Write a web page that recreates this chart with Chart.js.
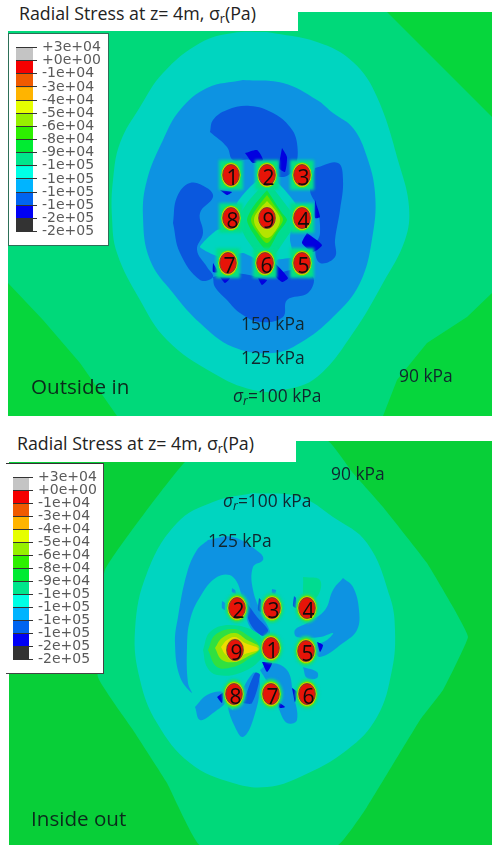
<!DOCTYPE html>
<html>
<head>
<meta charset="utf-8">
<script src="https://cdn.jsdelivr.net/npm/chart.js@4/dist/chart.umd.min.js"></script>
<style>
html,body{margin:0;padding:0;background:#fff;width:492px;height:845px;overflow:hidden}
canvas{position:absolute;display:block}
.plot{filter:blur(.55px)}
.white{position:absolute;background:#fff}
.t{position:absolute;white-space:nowrap;font-family:"Open Sans",sans-serif;line-height:1;color:#10262e}
.title{font-size:17.8px;color:#222}
.ann{font-size:17.4px}
.big{font-size:20.6px;color:#0b2a1c}
.t sub{font-size:.7em;vertical-align:-.25em;line-height:0}
.box{position:absolute;box-sizing:border-box;background:#fff}
</style>
</head>
<body>
<canvas id="plotA" class="plot" style="left:8px;top:12px"></canvas>
<canvas id="plotB" class="plot" style="left:9px;top:441px"></canvas>

<div class="white" style="left:0;top:0;width:298px;height:31px"></div>
<div class="white" style="left:0;top:430px;width:296px;height:32px"></div>
<div class="box" style="left:8px;top:33px;width:101px;height:213px;border:1px solid #2d6f58"></div>
<div class="box" style="left:6px;top:463px;width:98px;height:211px;border-top:1px solid #333;border-right:1px solid #444;border-bottom:1px solid #444"></div>
<canvas id="legendA" style="left:9px;top:34px"></canvas>
<canvas id="legendB" style="left:6px;top:464px"></canvas>

<div class="t title" style="left:19px;top:5px">Radial Stress at z= 4m, σ<sub>r</sub>(Pa)</div>
<div class="t title" style="left:17px;top:435px">Radial Stress at z= 4m, σ<sub>r</sub>(Pa)</div>

<div class="t ann" style="left:241px;top:315px">150 kPa</div>
<div class="t ann" style="left:241px;top:349px">125 kPa</div>
<div class="t ann" style="left:233px;top:387px"><i>σ<sub>r</sub></i>=100 kPa</div>
<div class="t ann" style="left:399px;top:367px">90 kPa</div>
<div class="t big" style="left:31px;top:376px">Outside in</div>

<div class="t ann" style="left:331px;top:465px">90 kPa</div>
<div class="t ann" style="left:223px;top:492px"><i>σ<sub>r</sub></i>=100 kPa</div>
<div class="t ann" style="left:208px;top:532px">125 kPa</div>
<div class="t big" style="left:31px;top:808px">Inside out</div>

<script>
// ---------- legend ----------
const legendLabels = ["+3e+04","+0e+00","-1e+04","-3e+04","-4e+04","-5e+04","-6e+04","-8e+04","-9e+04","-1e+05","-1e+05","-1e+05","-1e+05","-2e+05","-2e+05"];
const legendBands = [1,1,1,1,1,1,1,1,1,1,1,1,1,1];
const legendColors = ["#C4C4C4","#F50000","#F05A00","#FFB400","#E6FF00","#96F000","#2DF000","#00EB32","#00E68C","#00FFE6","#00B4FF","#0064F0","#0000F5","#333333"];

// ---------- piles ----------
const pileLabelsA = ["1","2","3","8","9","4","7","6","5"];
const pileXA = [231,267,302,231,267,302,228,265,302];
const pileYA = [175,175,175,218,218,218,263,263,263];
const pileLabelsB = ["2","3","4","9","1","5","8","7","6"];
const pileXB = [237,272,307,235,271,306,234,271,307];
const pileYB = [608,608,608,650,648,651,694,694,694];

// ---------- contour bands: Outside in ----------
const a90 = [[8,12],[387,12],[492,117],[492,293],[467,317],[427,343],[397,380],[383,416],[117,416],[80,363],[43,320],[8,283],[8,12]];
const a100 = [[267,32],[317,42],[353,62],[377,97],[400,167],[409,207],[405,240],[383,283],[353,333],[317,377],[283,390],[253,390],[213,373],[167,340],[140,300],[117,253],[112,217],[113,180],[120,143],[140,107],[163,73],[200,43],[233,33],[267,32]];
const a125 = [[243,80],[283,83],[317,100],[333,113],[353,128],[367,157],[375,193],[373,233],[360,283],[333,317],[300,343],[273,353],[233,347],[200,323],[173,293],[150,260],[143,217],[147,180],[163,140],[180,110],[207,88],[243,80]];
const a150Top = [[210,132],[213,120],[227,110],[250,106],[273,113],[290,127],[297,143],[295,167],[283,177],[267,170],[250,160],[233,160],[227,147],[210,132]];
const a150Left = [[173,223],[177,197],[190,183],[207,188],[213,197],[200,213],[203,233],[197,250],[207,267],[213,277],[200,280],[180,253],[173,223]];
const a150Right = [[315,168],[338,163],[343,180],[340,210],[335,240],[335,257],[320,263],[315,248],[320,233],[317,207],[310,190],[315,168]];
const a150Bottom = [[213,277],[233,273],[267,277],[293,270],[313,277],[308,293],[287,300],[283,317],[260,322],[240,313],[227,300],[215,287],[213,277]];
const aStar = [[267,172],[283,188],[293,200],[297,207],[292,220],[290,240],[293,257],[277,260],[267,273],[257,260],[243,253],[220,257],[200,247],[217,230],[240,227],[243,217],[237,203],[250,187],[267,172]];
const aDiamond1 = [[267,180],[290,210],[297,220],[287,237],[267,263],[247,240],[238,220],[247,203],[267,180]];
const aDiamond2 = [[267,190],[282,213],[287,220],[278,233],[267,250],[253,233],[247,220],[253,207],[267,190]];
const aDiamond3 = [[267,195],[279,212],[283,220],[276,232],[267,243],[257,232],[251,220],[257,208],[267,195]];
const aDiamond4 = [[267,201],[276,211],[280,220],[276,230],[267,238],[258,230],[254,220],[258,211],[267,201]];
const aDeep1 = [[245,153],[257,150],[263,160],[253,163],[245,153]];
const aDeep2 = [[282,148],[287,157],[285,172],[279,168],[282,148]];
const aDeep3 = [[307,233],[322,245],[313,252],[302,243],[307,233]];
const aDeep4 = [[275,263],[288,278],[282,282],[273,273],[275,263]];
const aDeep5 = [[220,190],[232,192],[227,195],[220,190]];
const aDeep6 = [[315,200],[320,217],[315,218],[315,200]];
const aDeep7 = [[213,263],[218,272],[213,272],[213,263]];
const aDeep8 = [[220,277],[230,278],[225,283],[220,277]];
const aDeep9 = [[258,278],[267,280],[262,285],[258,278]];

// ---------- contour bands: Inside out ----------
const b90 = [[240,441],[328,441],[353,473],[383,507],[427,563],[453,607],[468,637],[443,690],[420,720],[367,807],[338,845],[200,845],[167,783],[133,730],[98,677],[105,570],[185,462],[240,441]];
const b100 = [[253,493],[300,497],[333,517],[367,543],[390,597],[395,630],[392,670],[377,717],[347,750],[300,777],[267,787],[233,783],[190,763],[157,723],[140,680],[135,630],[147,573],[177,523],[213,502],[253,493]];
const b125Arc = [[208,540],[233,537],[260,553],[263,560],[253,567],[253,590],[263,617],[270,633],[263,635],[250,627],[243,600],[233,577],[217,577],[200,597],[190,620],[187,647],[188,683],[192,693],[180,677],[175,643],[178,617],[187,573],[197,550],[208,540]];
const b125Right = [[343,578],[353,587],[359,610],[357,630],[343,643],[320,657],[315,647],[327,640],[333,633],[320,637],[297,637],[295,630],[307,623],[325,610],[333,590],[343,578]];
const b125Low1 = [[195,707],[207,695],[223,692],[227,700],[213,713],[200,720],[195,707]];
const b125Low2 = [[260,670],[270,663],[287,670],[293,693],[297,720],[287,723],[278,707],[270,687],[260,670]];
const b125Low3 = [[233,710],[253,673],[260,683],[253,720],[243,737],[235,727],[228,707],[233,710]];
const b125Low4 = [[303,667],[317,672],[317,678],[307,678],[303,667]];
const bFleck1 = [[222,601],[225,603],[225,610],[222,608],[222,601]];
const bFleck2 = [[232,588],[235,590],[236,594],[232,592],[232,588]];
const bFleck3 = [[272,589],[276,590],[275,594],[272,593],[272,589]];
const bFleck4 = [[294,596],[296,598],[296,608],[293,606],[294,596]];
const bFleck5 = [[259,598],[261,600],[261,612],[258,610],[259,598]];
const bStreak = [[247,603],[257,617],[268,630],[263,636],[253,628],[248,618],[247,603]];
const bStreak2 = [[243,703],[255,673],[260,675],[252,703],[243,703]];
const bDeep1 = [[317,642],[323,645],[320,652],[317,642]];
const bDeep2 = [[262,662],[272,663],[267,672],[262,662]];
const bDeep3 = [[217,697],[223,693],[222,703],[217,697]];
const bDeep4 = [[292,688],[297,692],[295,702],[292,688]];
const bDeep5 = [[278,702],[285,707],[280,708],[278,702]];
const bBlob1 = [[203,650],[210,632],[230,625],[257,633],[263,647],[260,660],[240,673],[217,675],[207,667],[203,650]];
const bBlob2 = [[208,650],[215,635],[233,629],[247,635],[260,648],[247,660],[233,667],[217,667],[208,650]];
const bBlob3 = [[215,648],[222,638],[235,633],[247,640],[260,648],[247,657],[235,662],[222,660],[215,648]];
const bBlob4 = [[221,647],[227,640],[235,637],[245,643],[259,649],[245,654],[235,658],[226,655],[221,647]];
const bPatch = [[303,577],[320,580],[317,597],[305,600],[303,577]];

const tealGreen = "#00DC90", teal = "#00D5C0", blue = "#0D93E2", dark = "#0A58DE", deep = "#0200E0";
const bgA = "#06D63C", bgB = "#08CF38", band90 = "#00D97A";

const layersA = [
  [a90,band90,0],[a100,teal,.4],[a125,blue,.4],
  [a150Top,dark,.4],[a150Left,dark,.4],[a150Right,dark,.4],[a150Bottom,dark,.4],
  [aDeep1,deep,.2],[aDeep2,deep,.2],[aDeep3,deep,.2],[aDeep4,deep,.2],[aDeep5,deep,.2],[aDeep6,deep,.2],[aDeep7,deep,.2],[aDeep8,deep,.2],[aDeep9,deep,.2],
  [aStar,teal,.15],[aDiamond1,tealGreen,.15],[aDiamond2,"#10E040",.25],[aDiamond3,"#60E000",.3],[aDiamond4,"#B4E400",.4]
];
const layersB = [
  [b90,band90,.1],[b100,teal,.4],
  [b125Arc,blue,.4],[b125Right,blue,.4],[b125Low1,blue,.4],[b125Low2,blue,.4],[b125Low3,blue,.4],[b125Low4,blue,.4],
  [bFleck1,blue,.2],[bFleck2,blue,.2],[bFleck3,blue,.2],[bFleck4,dark,.2],[bFleck5,dark,.2],
  [bStreak,dark,.3],[bStreak2,dark,.3],
  [bDeep1,deep,.2],[bDeep2,deep,.2],[bDeep3,deep,.2],[bDeep4,deep,.2],[bDeep5,deep,.2],
  [bPatch,tealGreen,.4],
  [bBlob1,tealGreen,.4],[bBlob2,"#30E040",.4],[bBlob3,"#A0E400",.4],[bBlob4,"#F0DC00",.4]
];

function pileGlyph(mode){
  const c = document.createElement("canvas");
  c.width = 44; c.height = 52;
  const g = c.getContext("2d");
  const cx = 22, cy = 26;
  function ell(rx,ry,col){g.fillStyle=col;g.beginPath();g.ellipse(cx,cy,rx,ry,0,0,7);g.fill();}
  g.filter = "blur(1.6px)";
  if(mode==="patch"){
    g.fillStyle = tealGreen; g.fillRect(cx-12,cy-15,24,30);
    g.fillStyle = "#10E070"; g.fillRect(cx-9,cy-12,18,24);
  } else if(mode==="soft"){
    ell(11.5,15,tealGreen); ell(10,13.5,"#40E040");
  }
  g.filter = "blur(.7px)";
  if(mode!=="bare") ell(9.8,12.6,"#70E400");
  ell(9.4,11.6,"#E0E800");
  ell(9,11.2,"#F0A000");
  ell(8.2,10.4,"#E61408");
  g.filter = "none";
  g.strokeStyle="#4a4a3a"; g.lineWidth=.8;
  g.beginPath();g.ellipse(cx,cy,8.3,10.5,0,0,7);g.stroke();
  return c;
}
const patchGlyph = pileGlyph("patch"), softGlyph = pileGlyph("soft"), bareGlyph = pileGlyph("bare");

const pileNumbers = {
  id:"pileNumbers",
  afterDatasetsDraw(chart){
    const o = chart.options.plugins.pileNumbers, g = chart.ctx;
    g.save();
    g.font = "21px 'Open Sans'"; g.fillStyle = "#120c0c";
    g.textAlign = "center"; g.textBaseline = "middle";
    o.labels.forEach((s,i)=>{
      g.fillText(s, chart.scales.x.getPixelForValue(o.xs[i])+1.5, chart.scales.y.getPixelForValue(o.ys[i])+4);
    });
    g.restore();
  }
};

function plot(id,w,h,xr,yr,bg,layers,labels,xs,ys,styles){
  const ds = layers.map((l,i)=>({
    type:"scatter",showLine:true,
    data:l[0].map(p=>({x:p[0],y:p[1]})),
    backgroundColor:l[1],borderColor:l[1],borderWidth:0,
    fill:"shape",tension:l[2],pointRadius:0,order:layers.length-i+1
  }));
  ds.push({type:"scatter",data:xs.map((x,i)=>({x:x,y:ys[i]})),pointStyle:styles,pointRadius:10,order:0,clip:false});
  const el = document.getElementById(id);
  el.width = w; el.height = h;
  new Chart(el,{
    type:"scatter",data:{datasets:ds},
    plugins:[{id:"bg",beforeDraw(c){c.ctx.fillStyle=bg;c.ctx.fillRect(0,0,w,h);}},pileNumbers],
    options:{
      responsive:false,animation:false,events:[],
      layout:{padding:0,autoPadding:false},
      scales:{
        x:{type:"linear",display:false,min:xr[0],max:xr[1]},
        y:{type:"linear",display:false,min:yr[0],max:yr[1],reverse:true}
      },
      plugins:{legend:{display:false},tooltip:{enabled:false},pileNumbers:{labels,xs,ys}}
    }
  });
}
plot("plotA",484,404,[8,492],[12,416],bgA,layersA,pileLabelsA,pileXA,pileYA,
  pileLabelsA.map(s=>s==="9"?bareGlyph:patchGlyph));
plot("plotB",483,404,[9,492],[441,845],bgB,layersB,pileLabelsB,pileXB,pileYB,
  pileLabelsB.map(s=>s==="9"?bareGlyph:softGlyph));

function legend(id,w,h,padL,barW,padV){
  const el = document.getElementById(id);
  el.width = w; el.height = h;
  new Chart(el,{
    type:"bar",
    data:{labels:[""],datasets:legendBands.map((v,i)=>({
      data:[v],backgroundColor:legendColors[i],borderWidth:0,
      barPercentage:1,categoryPercentage:1,stack:"s"
    }))},
    options:{
      responsive:false,animation:false,events:[],
      layout:{padding:{left:padL,right:0,top:padV,bottom:padV},autoPadding:false},
      scales:{
        x:{display:false,stacked:true},
        y:{
          stacked:true,reverse:true,min:0,max:14,position:"right",
          afterFit(s){s.width=w-padL-barW;},
          afterBuildTicks(s){s.ticks=legendLabels.map((_,i)=>({value:i}));},
          border:{display:false},
          grid:{color:"#333",lineWidth:1,z:1,tickLength:4,drawOnChartArea:true},
          ticks:{
            autoSkip:false,padding:5,maxRotation:0,
            color:"#5a5a5a",font:{family:"'DejaVu Sans'",size:14},
            callback(v){return legendLabels[v];}
          }
        }
      },
      plugins:{legend:{display:false},tooltip:{enabled:false}}
    }
  });
}
legend("legendA",99,211,7,17,12);
legend("legendB",97,209,7,16,12);
</script>
</body>
</html>
